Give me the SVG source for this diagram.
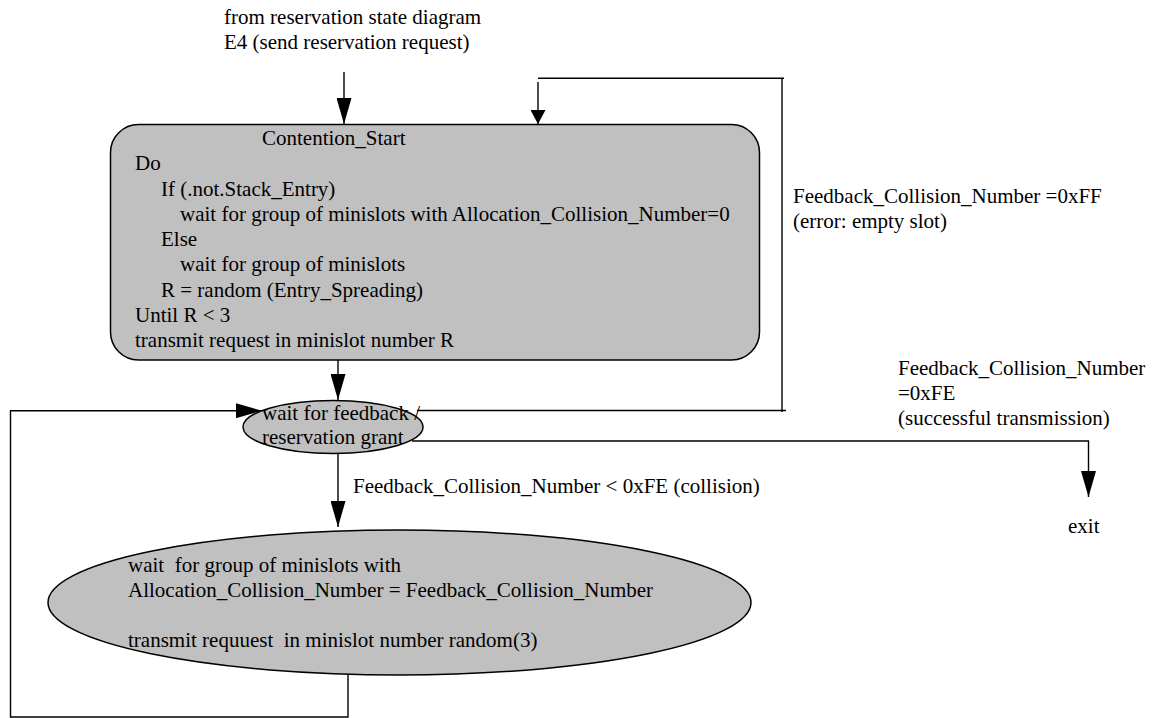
<svg xmlns="http://www.w3.org/2000/svg" width="1156" height="718" viewBox="0 0 1156 718">
<style>
text{font-family:"Liberation Serif","Times New Roman",Times,serif;font-size:21px;fill:#000;white-space:pre}
.node{fill:#c0c0c0;stroke:#000;stroke-width:1.5}
.conn{fill:none;stroke:#000;stroke-width:1.4}
</style>
<defs>
<marker id="big" viewBox="0 0 26 15" refX="26" refY="7.5" markerWidth="26" markerHeight="15" markerUnits="userSpaceOnUse" orient="auto"><path d="M0,0 L26,7.5 L0,15 z" fill="#000"/></marker>
<marker id="small" viewBox="0 0 14 15" refX="14" refY="7.5" markerWidth="14" markerHeight="15" markerUnits="userSpaceOnUse" orient="auto"><path d="M0,0 L14,7.5 L0,15 z" fill="#000"/></marker>
</defs>
<rect width="1156" height="718" fill="#fff"/>
<g id="labels">
<text x="224" y="24">from reservation state diagram</text>
<text x="224" y="49">E4 (send reservation request)</text>
<text x="793" y="203">Feedback_Collision_Number =0xFF</text>
<text x="793" y="228">(error: empty slot)</text>
<text x="898" y="375">Feedback_Collision_Number</text>
<text x="898" y="400">=0xFE</text>
<text x="898" y="425">(successful transmission)</text>
<text x="353" y="493">Feedback_Collision_Number &lt; 0xFE (collision)</text>
</g>
<g id="exit">
<text x="1068" y="533">exit</text>
</g>
<g id="contention_start">
<rect class="node" x="110.5" y="124.5" width="649" height="235.5" rx="28" ry="28"/>
<text x="262" y="145">Contention_Start</text>
<text x="135" y="170">Do</text>
<text x="161" y="195.5">If (.not.Stack_Entry)</text>
<text x="180" y="221">wait for group of minislots with Allocation_Collision_Number=0</text>
<text x="161" y="246">Else</text>
<text x="180" y="271">wait for group of minislots</text>
<text x="161" y="296.5">R = random (Entry_Spreading)</text>
<text x="135" y="322">Until R &lt; 3</text>
<text x="135" y="347">transmit request in minislot number R</text>
</g>
<g id="connectors">
<path class="conn" d="M344,72 V124" marker-end="url(#big)"/>
<path class="conn" d="M338,360 V400" marker-end="url(#big)"/>
<path class="conn" d="M338,453 V527" marker-end="url(#big)"/>
<path class="conn" d="M417,410.5 H786 M782,412 V78 M784,78.3 H538 M538,82 V124" marker-end="url(#small)"/>
<path class="conn" d="M412,441 H1088.5 V497" marker-end="url(#big)"/>
<path class="conn" d="M348,675 V717 H10.5 V410.7 H262" marker-end="url(#big)"/>
</g>
<g id="wait_feedback">
<ellipse class="node" cx="333" cy="427" rx="90" ry="26.5"/>
<text x="262" y="420">wait for feedback /</text>
<text x="262" y="444">reservation grant</text>
</g>
<g id="wait_collision">
<ellipse class="node" cx="399.5" cy="602.5" rx="351.5" ry="72.5"/>
<text x="128" y="572" xml:space="preserve">wait  for group of minislots with</text>
<text x="128" y="597">Allocation_Collision_Number = Feedback_Collision_Number</text>
<text x="128" y="647" xml:space="preserve">transmit requuest  in minislot number random(3)</text>
</g>
</svg>
